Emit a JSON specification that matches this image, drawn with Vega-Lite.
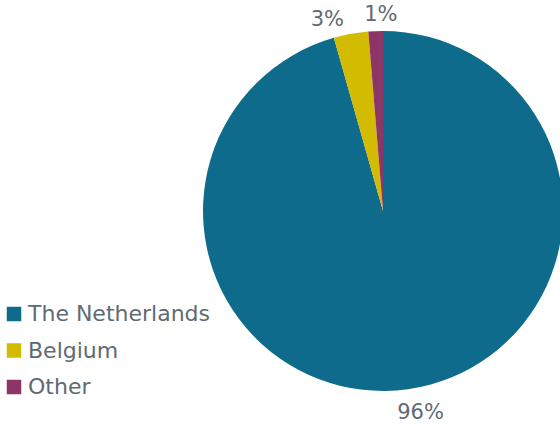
{
  "$schema": "https://vega.github.io/schema/vega-lite/v6.json",
  "width": 360,
  "height": 360,
  "padding": {"left": 203, "top": 31, "right": 0, "bottom": 36},
  "autosize": {"type": "none"},
  "background": "white",
  "view": {"stroke": null},
  "data": {
    "values": [
      {"country": "The Netherlands", "share": 0.956, "rank": 1},
      {"country": "Belgium", "share": 0.031, "rank": 2},
      {"country": "Other", "share": 0.013, "rank": 3}
    ]
  },
  "encoding": {
    "theta": {"field": "share", "type": "quantitative", "stack": true},
    "order": {"field": "rank", "type": "quantitative"}
  },
  "layer": [
    {
      "mark": {"type": "arc", "outerRadius": 180},
      "encoding": {
        "color": {
          "field": "country",
          "type": "nominal",
          "sort": null,
          "scale": {
            "domain": ["The Netherlands", "Belgium", "Other"],
            "range": ["#0e6b8c", "#d2bb00", "#8c3566"]
          },
          "legend": {
            "title": null,
            "orient": "none",
            "legendX": -200,
            "legendY": 272,
            "symbolType": "square",
            "symbolSize": 210,
            "symbolStrokeWidth": 0,
            "labelFontSize": 22,
            "labelFont": "DejaVu Sans",
            "labelColor": "#5f6a72",
            "labelOffset": 3,
            "labelLimit": 0,
            "rowPadding": 14.5
          }
        }
      }
    },
    {
      "mark": {
        "type": "text",
        "radius": 200,
        "dx": {"expr": "datum.country === 'Belgium' ? -20 : (datum.country === 'Other' ? 6 : 10)"},
        "dy": {"expr": "datum.country === 'Belgium' ? 6 : 4"},
        "fontSize": 21,
        "font": "DejaVu Sans",
        "fill": "#5f6a72"
      },
      "encoding": {
        "text": {"field": "share", "type": "quantitative", "format": ".0%"}
      }
    }
  ]
}
